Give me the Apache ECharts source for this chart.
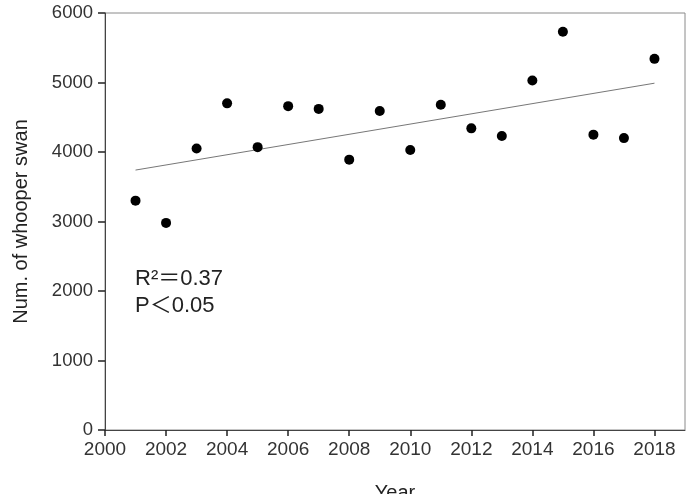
<!DOCTYPE html>
<html>
<head>
<meta charset="utf-8">
<script src="https://cdn.jsdelivr.net/npm/echarts@6/dist/echarts.min.js"></script>
<style>
html,body{margin:0;padding:0;background:#fff;}
#chart{width:696px;height:494px;}
</style>
</head>
<body>
<div id="chart"></div>
<script>
const years = [2001,2002,2003,2004,2005,2006,2007,2008,2009,2010,2011,2012,2013,2014,2015,2016,2017,2018];
const swanCounts = [3300,2980,4050,4700,4070,4660,4620,3890,4590,4030,4680,4340,4230,5030,5730,4250,4200,5340];
const trendYears = [2001, 2018];
const trendValues = [3740, 4990];
const xTicks = [2000,2002,2004,2006,2008,2010,2012,2014,2016,2018];
const yTicks = [0,1000,2000,3000,4000,5000,6000];
const annotationLines = ['R²＝0.37', 'P＜0.05'];

const font = 'Liberation Sans, Arial, Helvetica, "Noto Sans CJK SC", sans-serif';
const chart = echarts.init(document.getElementById('chart'), null, {renderer:'canvas'});
chart.setOption({
  animation: false,
  backgroundColor: '#fff',
  grid: {left:105, top:13, right:11, bottom:64, show:true, borderColor:'#8a8a8a', borderWidth:1, containLabel:false, outerBoundsMode:'none'},
  xAxis: {
    type:'value', min:2000, max:2019, interval:2,
    name:'Year', nameLocation:'middle', nameGap:53,
    nameTextStyle:{fontFamily:font, fontSize:20, color:'#222'},
    axisLine:{show:true, lineStyle:{color:'#444', width:1}},
    axisTick:{show:true, inside:false, length:6, lineStyle:{color:'#222', width:1.5}, customValues:xTicks},
    axisLabel:{fontFamily:font, fontSize:19, color:'#333', margin:10, customValues:xTicks, formatter: v => String(v)},
    splitLine:{show:false}
  },
  yAxis: {
    type:'value', min:0, max:6000, interval:1000,
    name:'Num. of whooper swan', nameLocation:'middle', nameGap:74,
    nameTextStyle:{fontFamily:font, fontSize:20, color:'#222'},
    axisLine:{show:true, lineStyle:{color:'#444', width:1}},
    axisTick:{show:true, inside:false, length:7, lineStyle:{color:'#222', width:1.5}, customValues:yTicks},
    axisLabel:{fontFamily:font, fontSize:18.5, color:'#333', margin:12, customValues:yTicks, formatter: v => String(v)},
    splitLine:{show:false}
  },
  graphic: [{
    type:'text', left:135, top:265,
    style:{text:annotationLines.join('\n'), fontFamily:font, fontSize:22, lineHeight:27, fill:'#222'}
  }],
  series: [
    {
      type:'line', data: trendYears.map((y,i)=>[y, trendValues[i]]),
      symbol:'none', lineStyle:{color:'#777', width:1}, z:1
    },
    {
      type:'scatter', data: years.map((y,i)=>[y, swanCounts[i]]),
      symbol:'circle', symbolSize:10, itemStyle:{color:'#000', opacity:1}, z:2
    }
  ]
});
</script>
</body>
</html>
